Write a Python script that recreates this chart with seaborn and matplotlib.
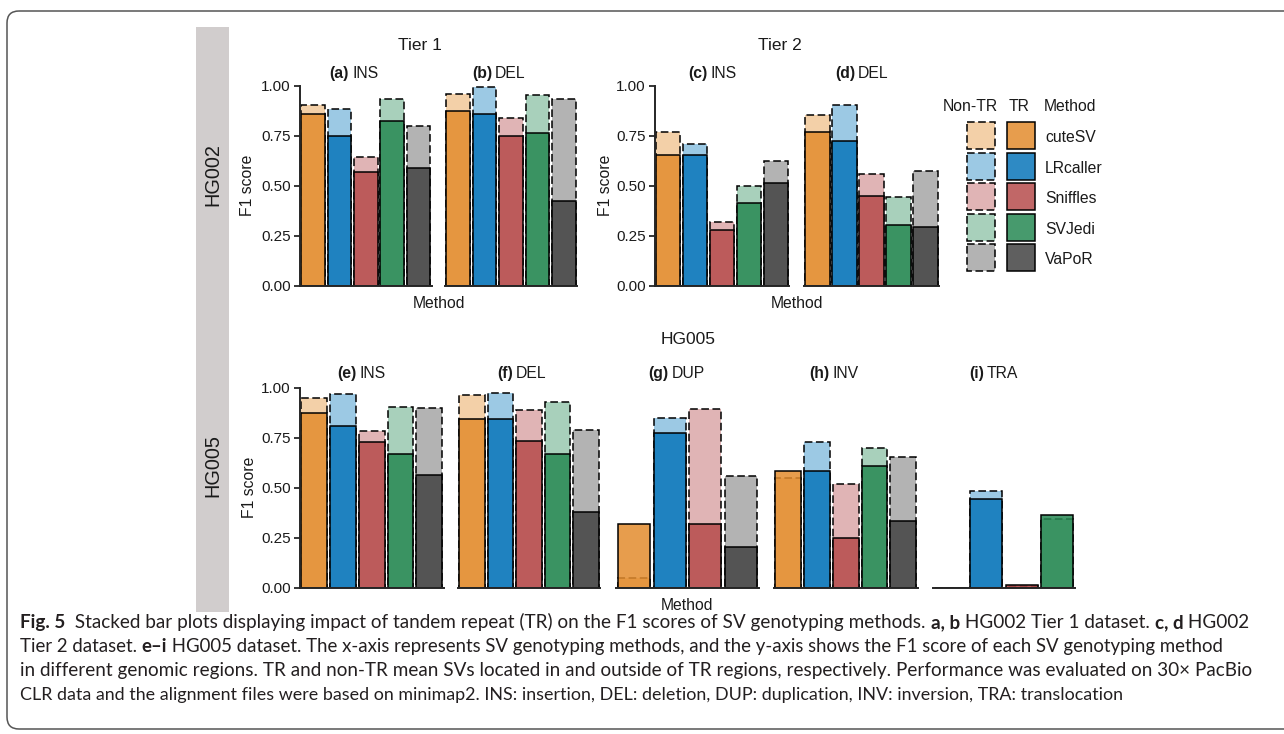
import matplotlib
matplotlib.use("Agg")
import matplotlib.pyplot as plt
import seaborn as sns
import pandas as pd
from matplotlib.colors import to_rgba
from matplotlib.patches import Rectangle, FancyBboxPatch

# ---------------- data ----------------
methods = ["cuteSV", "LRcaller", "Sniffles", "SVJedi", "VaPoR"]

# HG002 Tier 1
a_methods = ["cuteSV", "LRcaller", "Sniffles", "SVJedi", "VaPoR"]
a_tr = [0.860, 0.748, 0.570, 0.823, 0.587]
a_non = [0.903, 0.882, 0.645, 0.932, 0.800]
b_methods = ["cuteSV", "LRcaller", "Sniffles", "SVJedi", "VaPoR"]
b_tr = [0.875, 0.860, 0.747, 0.762, 0.425]
b_non = [0.958, 0.993, 0.840, 0.953, 0.932]
# HG002 Tier 2
c_methods = ["cuteSV", "LRcaller", "Sniffles", "SVJedi", "VaPoR"]
c_tr = [0.653, 0.653, 0.280, 0.412, 0.513]
c_non = [0.768, 0.708, 0.317, 0.500, 0.622]
d_methods = ["cuteSV", "LRcaller", "Sniffles", "SVJedi", "VaPoR"]
d_tr = [0.767, 0.722, 0.450, 0.302, 0.293]
d_non = [0.852, 0.902, 0.558, 0.443, 0.573]
# HG005
e_methods = ["cuteSV", "LRcaller", "Sniffles", "SVJedi", "VaPoR"]
e_tr = [0.873, 0.807, 0.728, 0.670, 0.563]
e_non = [0.947, 0.968, 0.782, 0.902, 0.898]
f_methods = ["cuteSV", "LRcaller", "Sniffles", "SVJedi", "VaPoR"]
f_tr = [0.845, 0.843, 0.733, 0.670, 0.378]
f_non = [0.963, 0.973, 0.890, 0.930, 0.788]
g_methods = ["cuteSV", "LRcaller", "Sniffles", "VaPoR"]
g_tr = [0.320, 0.772, 0.317, 0.202]
g_non = [0.047, 0.848, 0.893, 0.558]
h_methods = ["cuteSV", "LRcaller", "Sniffles", "SVJedi", "VaPoR"]
h_tr = [0.583, 0.583, 0.248, 0.610, 0.333]
h_non = [0.548, 0.728, 0.518, 0.697, 0.655]
i_methods = ["cuteSV", "LRcaller", "Sniffles", "SVJedi"]
i_tr = [0.000, 0.442, 0.012, 0.362]
i_non = [0.000, 0.482, 0.010, 0.342]

y_ticks = [0.00, 0.25, 0.50, 0.75, 1.00]
y_ticklabels = ["0.00", "0.25", "0.50", "0.75", "1.00"]

tr_colors = {"cuteSV": "#E38C2E", "LRcaller": "#0976BA", "Sniffles": "#B64C4C",
             "SVJedi": "#278953", "VaPoR": "#434343"}
non_colors = {"cuteSV": "#F3D0A8", "LRcaller": "#9CC9E4", "Sniffles": "#E0B4B5",
              "SVJedi": "#A8D0BB", "VaPoR": "#B3B3B3"}
TR_ALPHA = 0.85

caption_lines = [
    [("Fig. 5", True), ("  Stacked bar plots displaying impact of tandem repeat (TR) on the F1 scores of SV genotyping methods. ", False),
     ("a, b", True), (" HG002 Tier 1 dataset. ", False), ("c, d", True), (" HG002", False)],
    [("Tier 2 dataset. ", False), ("e\u2013i", True),
     (" HG005 dataset. The x-axis represents SV genotyping methods, and the y-axis shows the F1 score of each SV genotyping method", False)],
    [("in different genomic regions. TR and non-TR mean SVs located in and outside of TR regions, respectively. Performance was evaluated on 30\u00d7 PacBio", False)],
    [("CLR data and the alignment files were based on minimap2. INS: insertion, DEL: deletion, DUP: duplication, INV: inversion, TRA: translocation", False)],
]
caption_line_ends = [1250, 1228, 1246, 1118]

# ---------------- style ----------------
sns.set_style("ticks")
plt.rcParams["font.family"] = ["Liberation Sans", "DejaVu Sans"]
plt.rcParams["axes.linewidth"] = 1.3

FS = 11.3        # general text size
FS_TITLE = 12.5
TXT = "#1a1a1a"

W, H = 1284, 734
fig = plt.figure(figsize=(W / 100, H / 100), dpi=100)
fig.patch.set_facecolor("white")

# overlay axes in pixel coordinates (y downward)
ov = fig.add_axes([0, 0, 1, 1])
ov.set_xlim(0, W)
ov.set_ylim(H, 0)
ov.axis("off")

# frame and side strip
ov.add_patch(FancyBboxPatch((7, 11), 1320, 718, boxstyle="round,pad=0,rounding_size=12",
                            fc="none", ec="#555555", lw=1.1))
ov.add_patch(Rectangle((196, 27), 33, 585, fc="#D1CDCD", ec="none"))
ov.text(212.5, 175, "HG002", rotation=90, ha="center", va="center", fontsize=14.3, color=TXT)
ov.text(212.5, 466, "HG005", rotation=90, ha="center", va="center", fontsize=14.3, color=TXT)

DASH = (0, (5, 2.3))
EDGE_LW = 1.1


def panel(x0, x1, ytop, ybot, m, tr, non, show_y):
    ax = fig.add_axes([x0 / W, 1 - ybot / H, (x1 - x0) / W, (ybot - ytop) / H])
    ax.set_facecolor("none")
    df = pd.DataFrame({"Method": m, "TR": tr, "NonTR": non})
    sns.barplot(data=df, x="Method", y="NonTR", hue="Method", order=m, hue_order=m,
                palette=non_colors, saturation=1, width=0.9, errorbar=None, legend=False,
                edgecolor="black", linewidth=EDGE_LW, linestyle=DASH, ax=ax)
    n0 = len(ax.patches)
    sns.barplot(data=df, x="Method", y="TR", hue="Method", order=m, hue_order=m,
                palette=tr_colors, saturation=1, width=0.9, errorbar=None, legend=False,
                edgecolor="black", linewidth=EDGE_LW, ax=ax)
    for p in ax.patches[n0:]:
        idx = int(round(p.get_x() + p.get_width() / 2))
        p.set_facecolor(to_rgba(tr_colors[m[idx]], TR_ALPHA))
    ax.set_xlim(-0.5, len(m) - 0.5)
    ax.set_ylim(0, 1)
    ax.set_xlabel("")
    ax.set_ylabel("")
    ax.set_xticks([])
    for s in ["top", "right"]:
        ax.spines[s].set_visible(False)
    ax.spines["bottom"].set_linewidth(1.4)
    if show_y:
        ax.spines["left"].set_linewidth(1.4)
        ax.set_yticks(y_ticks)
        ax.set_yticklabels(y_ticklabels)
        ax.tick_params(axis="y", length=4, width=1.1, labelsize=11, pad=2.5, colors="black")
        for lab in ax.get_yticklabels():
            lab.set_color(TXT)
    else:
        ax.spines["left"].set_visible(False)
        ax.set_yticks([])
    return ax


T0, T1 = 85.7, 285.7
B0, B1 = 387.7, 587.7
panel(300, 431.5, T0, T1, a_methods, a_tr, a_non, True)
panel(445, 577, T0, T1, b_methods, b_tr, b_non, False)
panel(655, 789, T0, T1, c_methods, c_tr, c_non, True)
panel(804, 939, T0, T1, d_methods, d_tr, d_non, False)
panel(300, 443.5, B0, B1, e_methods, e_tr, e_non, True)
panel(458, 600, B0, B1, f_methods, f_tr, f_non, False)
panel(616, 759, B0, B1, g_methods, g_tr, g_non, False)
panel(774, 917.5, B0, B1, h_methods, h_tr, h_non, False)
panel(933, 1075, B0, B1, i_methods, i_tr, i_non, False)

# strip labels: bold letter + normal type
strips = [(350.5, 78, "(a)", "INS"), (493.5, 78, "(b)", "DEL"),
          (709, 78, "(c)", "INS"), (856.5, 78, "(d)", "DEL"),
          (358, 378, "(e)", "INS"), (514.5, 378, "(f)", "DEL"),
          (670, 378, "(g)", "DUP"), (831, 378, "(h)", "INV"),
          (985.5, 378, "(i)", "TRA")]
for bx, by, lab, typ in strips:
    ov.text(bx - 1.5, by, lab, ha="right", va="baseline", fontsize=FS, fontweight="bold", color=TXT)
    ov.text(bx + 1.5, by, typ, ha="left", va="baseline", fontsize=FS, color=TXT)

# group titles and axis titles
ov.text(420, 49.5, "Tier 1", ha="center", va="baseline", fontsize=FS_TITLE, color=TXT)
ov.text(780, 49.5, "Tier 2", ha="center", va="baseline", fontsize=FS_TITLE, color=TXT)
ov.text(688, 343.5, "HG005", ha="center", va="baseline", fontsize=FS_TITLE, color=TXT)
ov.text(439, 307.5, "Method", ha="center", va="baseline", fontsize=FS, color=TXT)
ov.text(797, 307.5, "Method", ha="center", va="baseline", fontsize=FS, color=TXT)
ov.text(687, 609.5, "Method", ha="center", va="baseline", fontsize=FS, color=TXT)
for yx, yc in [(248, 185.7), (606, 185.7), (249, 487.7)]:
    ov.text(yx, yc, "F1 score", rotation=90, ha="center", va="center", fontsize=FS, color=TXT)

# legend (manual keys)
ov.text(970, 111, "Non-TR", ha="center", va="baseline", fontsize=FS, color=TXT)
ov.text(1019.5, 111, "TR", ha="center", va="baseline", fontsize=FS, color=TXT)
ov.text(1044, 111, "Method", ha="left", va="baseline", fontsize=FS, color=TXT)
for k, meth in enumerate(methods):
    top = 122 + k * 30.5
    ov.add_patch(Rectangle((967, top), 28, 27, fc=non_colors[meth], ec="black", lw=EDGE_LW, linestyle=DASH))
    ov.add_patch(Rectangle((1007, top), 28, 27, fc=to_rgba(tr_colors[meth], TR_ALPHA), ec="black", lw=EDGE_LW))
    ov.text(1045, top + 20.3, meth, ha="left", va="baseline", fontsize=FS, color=TXT)

# caption
CAP_FONT = ["Lato", "DejaVu Sans"]
fig.canvas.draw()
renderer = fig.canvas.get_renderer()


def seg_w(s, bold, size):
    t = ov.text(0, 0, s + "|", fontsize=size, fontweight="bold" if bold else "normal", family=CAP_FONT)
    w1 = t.get_window_extent(renderer).width
    t.set_text("|")
    w2 = t.get_window_extent(renderer).width
    t.remove()
    return w1 - w2


base = 10.0
for li, segs in enumerate(caption_lines):
    w_nat = sum(seg_w(s, b, base) for s, b in segs)
    size = base * (caption_line_ends[li] - 20) / w_nat
    x = 20
    y = 628 + li * 24
    for s, b in segs:
        ov.text(x, y, s, ha="left", va="baseline", fontsize=size,
                fontweight="bold" if b else "normal", family=CAP_FONT, color="#231F20")
        x += seg_w(s, b, size)

fig.savefig("out.png", dpi=100, facecolor="white")
